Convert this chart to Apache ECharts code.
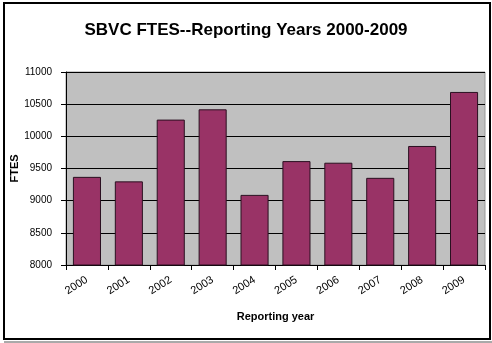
<!DOCTYPE html>
<html>
<head>
<meta charset="utf-8">
<script src="https://cdn.jsdelivr.net/npm/echarts@6/dist/echarts.min.js"></script>
<style>
html,body{margin:0;padding:0;background:#fff;}
#c{width:492px;height:343px;}
</style>
</head>
<body>
<div id="c"></div>
<script>
var years = ['2000','2001','2002','2003','2004','2005','2006','2007','2008','2009'];
var ftes = [9370, 9300, 10260, 10420, 9090, 9615, 9590, 9355, 9850, 10690];
var yTicks = [8000, 8500, 9000, 9500, 10000, 10500, 11000];
var chartTitle = 'SBVC FTES--Reporting Years 2000-2009';
var xName = 'Reporting year';
var yName = 'FTES';

var chart = echarts.init(document.getElementById('c'), null, {renderer:'canvas'});
var font = 'Arial, "Liberation Sans", sans-serif';
chart.setOption({
  animation: false,
  backgroundColor: '#fff',
  title: {
    text: chartTitle,
    left: 'center',
    top: 17,
    textStyle: {fontFamily: font, fontSize: 17, fontWeight: 'bold', color: '#000'}
  },
  graphic: [
    {type:'rect', shape:{x:4, y:3, width:486, height:336}, style:{fill:'none', stroke:'#000', lineWidth:2}, silent:true},
    {type:'line', shape:{x1:4, y1:342, x2:492, y2:342}, style:{stroke:'#555', lineWidth:1}, silent:true}
  ],
  grid: {
    left: 66, right: 7, top: 72, bottom: 78,
    outerBoundsMode: 'none',
    containLabel: false,
    show: true, backgroundColor: '#c0c0c0', borderColor: '#999', borderWidth: 1
  },
  xAxis: {
    type: 'category',
    data: years,
    name: xName,
    nameLocation: 'middle',
    nameGap: 46,
    nameMoveOverlap: false,
    nameTextStyle: {fontFamily: font, fontSize: 11, fontWeight: 'bold', color: '#000'},
    axisLine: {show: true, lineStyle: {color: '#000', width: 1}},
    axisTick: {show: true, alignWithLabel: false, length: 5, lineStyle: {color: '#000'}},
    axisLabel: {rotate: 32, fontFamily: font, fontSize: 11, color: '#000', margin: 14},
    splitLine: {show: false}
  },
  yAxis: {
    type: 'value',
    min: yTicks[0],
    max: yTicks[yTicks.length - 1],
    interval: 500,
    name: yName,
    nameLocation: 'middle',
    nameGap: 46,
    nameMoveOverlap: false,
    nameTextStyle: {fontFamily: font, fontSize: 11, fontWeight: 'bold', color: '#000'},
    axisLine: {show: true, lineStyle: {color: '#000', width: 1}},
    axisTick: {show: true, length: 5, lineStyle: {color: '#000'}},
    axisLabel: {fontFamily: font, fontSize: 10, color: '#000', margin: 14, formatter: function(v){ return String(v); }},
    splitLine: {show: true, lineStyle: {color: '#000', width: 1}}
  },
  series: [{
    type: 'bar',
    data: ftes,
    barCategoryGap: '33%',
    itemStyle: {color: '#993366', borderColor: '#2a1020', borderWidth: 1}
  }]
});
</script>
</body>
</html>
